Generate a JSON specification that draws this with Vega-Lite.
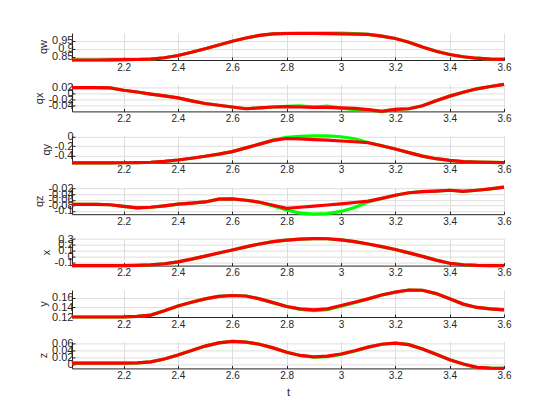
{
  "$schema": "https://vega.github.io/schema/vega-lite/v6.json",
  "padding": {"left": 33, "top": 26, "right": 5, "bottom": 5},
  "background": "white",
  "bounds": "flush",
  "spacing": 24.4,
  "datasets": {
    "est": [
      {"t": 2.01, "qw": 0.830, "qx": 0.020, "qy": -0.552, "qz": -0.077, "x": -0.160, "y": 0.1200, "z": 0.0045},
      {"t": 2.05, "qw": 0.830, "qx": 0.020, "qy": -0.552, "qz": -0.077, "x": -0.160, "y": 0.1200, "z": 0.0045},
      {"t": 2.10, "qw": 0.830, "qx": 0.020, "qy": -0.552, "qz": -0.077, "x": -0.160, "y": 0.1200, "z": 0.0045},
      {"t": 2.15, "qw": 0.831, "qx": 0.019, "qy": -0.552, "qz": -0.078, "x": -0.160, "y": 0.1200, "z": 0.0045},
      {"t": 2.20, "qw": 0.832, "qx": 0.011, "qy": -0.551, "qz": -0.084, "x": -0.159, "y": 0.1202, "z": 0.0048},
      {"t": 2.25, "qw": 0.833, "qx": 0.005, "qy": -0.548, "qz": -0.089, "x": -0.156, "y": 0.1212, "z": 0.0055},
      {"t": 2.30, "qw": 0.836, "qx": -0.002, "qy": -0.540, "qz": -0.087, "x": -0.148, "y": 0.1240, "z": 0.0080},
      {"t": 2.35, "qw": 0.844, "qx": -0.008, "qy": -0.522, "qz": -0.082, "x": -0.128, "y": 0.1330, "z": 0.0160},
      {"t": 2.40, "qw": 0.858, "qx": -0.015, "qy": -0.492, "qz": -0.076, "x": -0.095, "y": 0.1430, "z": 0.0270},
      {"t": 2.45, "qw": 0.878, "qx": -0.025, "qy": -0.455, "qz": -0.072, "x": -0.048, "y": 0.1510, "z": 0.0400},
      {"t": 2.50, "qw": 0.900, "qx": -0.034, "qy": -0.412, "qz": -0.068, "x": 0.005, "y": 0.1580, "z": 0.0520},
      {"t": 2.55, "qw": 0.923, "qx": -0.040, "qy": -0.368, "qz": -0.058, "x": 0.058, "y": 0.1630, "z": 0.0610},
      {"t": 2.60, "qw": 0.946, "qx": -0.046, "qy": -0.315, "qz": -0.057, "x": 0.110, "y": 0.1650, "z": 0.0650},
      {"t": 2.65, "qw": 0.966, "qx": -0.052, "qy": -0.235, "qz": -0.062, "x": 0.165, "y": 0.1640, "z": 0.0630},
      {"t": 2.70, "qw": 0.982, "qx": -0.049, "qy": -0.155, "qz": -0.069, "x": 0.215, "y": 0.1580, "z": 0.0570},
      {"t": 2.75, "qw": 0.992, "qx": -0.046, "qy": -0.075, "qz": -0.080, "x": 0.255, "y": 0.1500, "z": 0.0470},
      {"t": 2.80, "qw": 0.994, "qx": -0.045, "qy": -0.035, "qz": -0.091, "x": 0.280, "y": 0.1420, "z": 0.0350},
      {"t": 2.85, "qw": 0.994, "qx": -0.046, "qy": -0.045, "qz": -0.087, "x": 0.298, "y": 0.1370, "z": 0.0260},
      {"t": 2.90, "qw": 0.994, "qx": -0.047, "qy": -0.058, "qz": -0.083, "x": 0.308, "y": 0.1350, "z": 0.0220},
      {"t": 2.95, "qw": 0.993, "qx": -0.047, "qy": -0.072, "qz": -0.079, "x": 0.305, "y": 0.1370, "z": 0.0240},
      {"t": 3.00, "qw": 0.992, "qx": -0.049, "qy": -0.088, "qz": -0.075, "x": 0.285, "y": 0.1440, "z": 0.0300},
      {"t": 3.05, "qw": 0.990, "qx": -0.051, "qy": -0.105, "qz": -0.070, "x": 0.255, "y": 0.1510, "z": 0.0390},
      {"t": 3.10, "qw": 0.988, "qx": -0.055, "qy": -0.125, "qz": -0.065, "x": 0.215, "y": 0.1580, "z": 0.0490},
      {"t": 3.15, "qw": 0.978, "qx": -0.061, "qy": -0.190, "qz": -0.055, "x": 0.170, "y": 0.1660, "z": 0.0570},
      {"t": 3.20, "qw": 0.963, "qx": -0.054, "qy": -0.260, "qz": -0.044, "x": 0.120, "y": 0.1720, "z": 0.0600},
      {"t": 3.25, "qw": 0.940, "qx": -0.052, "qy": -0.335, "qz": -0.035, "x": 0.060, "y": 0.1765, "z": 0.0560},
      {"t": 3.30, "qw": 0.910, "qx": -0.042, "qy": -0.410, "qz": -0.031, "x": 0.000, "y": 0.1760, "z": 0.0440},
      {"t": 3.35, "qw": 0.884, "qx": -0.025, "qy": -0.465, "qz": -0.029, "x": -0.065, "y": 0.1690, "z": 0.0290},
      {"t": 3.40, "qw": 0.864, "qx": -0.009, "qy": -0.500, "qz": -0.026, "x": -0.120, "y": 0.1580, "z": 0.0140},
      {"t": 3.45, "qw": 0.850, "qx": 0.004, "qy": -0.525, "qz": -0.030, "x": -0.145, "y": 0.1470, "z": 0.0020},
      {"t": 3.50, "qw": 0.841, "qx": 0.016, "qy": -0.537, "qz": -0.026, "x": -0.155, "y": 0.1400, "z": -0.0070},
      {"t": 3.55, "qw": 0.836, "qx": 0.024, "qy": -0.545, "qz": -0.021, "x": -0.159, "y": 0.1370, "z": -0.0095},
      {"t": 3.60, "qw": 0.834, "qx": 0.031, "qy": -0.550, "qz": -0.015, "x": -0.160, "y": 0.1350, "z": -0.0100}
    ],
    "ref": [
      {"t": 2.01, "qw": 0.830, "qx": 0.020, "qy": -0.552, "qz": -0.077, "x": -0.160, "y": 0.1200, "z": 0.0045},
      {"t": 2.05, "qw": 0.830, "qx": 0.020, "qy": -0.552, "qz": -0.077, "x": -0.160, "y": 0.1200, "z": 0.0045},
      {"t": 2.10, "qw": 0.830, "qx": 0.020, "qy": -0.552, "qz": -0.077, "x": -0.160, "y": 0.1200, "z": 0.0045},
      {"t": 2.15, "qw": 0.831, "qx": 0.019, "qy": -0.552, "qz": -0.078, "x": -0.160, "y": 0.1200, "z": 0.0045},
      {"t": 2.20, "qw": 0.832, "qx": 0.011, "qy": -0.551, "qz": -0.084, "x": -0.159, "y": 0.1202, "z": 0.0048},
      {"t": 2.25, "qw": 0.833, "qx": 0.005, "qy": -0.548, "qz": -0.089, "x": -0.156, "y": 0.1212, "z": 0.0055},
      {"t": 2.30, "qw": 0.836, "qx": -0.002, "qy": -0.540, "qz": -0.087, "x": -0.148, "y": 0.1240, "z": 0.0080},
      {"t": 2.35, "qw": 0.844, "qx": -0.008, "qy": -0.522, "qz": -0.082, "x": -0.128, "y": 0.1330, "z": 0.0160},
      {"t": 2.40, "qw": 0.858, "qx": -0.015, "qy": -0.492, "qz": -0.076, "x": -0.095, "y": 0.1430, "z": 0.0270},
      {"t": 2.45, "qw": 0.878, "qx": -0.025, "qy": -0.455, "qz": -0.072, "x": -0.048, "y": 0.1510, "z": 0.0400},
      {"t": 2.50, "qw": 0.900, "qx": -0.034, "qy": -0.412, "qz": -0.068, "x": 0.005, "y": 0.1580, "z": 0.0520},
      {"t": 2.55, "qw": 0.923, "qx": -0.040, "qy": -0.368, "qz": -0.058, "x": 0.058, "y": 0.1630, "z": 0.0610},
      {"t": 2.60, "qw": 0.946, "qx": -0.046, "qy": -0.315, "qz": -0.057, "x": 0.110, "y": 0.1650, "z": 0.0650},
      {"t": 2.65, "qw": 0.966, "qx": -0.052, "qy": -0.235, "qz": -0.062, "x": 0.165, "y": 0.1640, "z": 0.0630},
      {"t": 2.70, "qw": 0.982, "qx": -0.049, "qy": -0.155, "qz": -0.069, "x": 0.215, "y": 0.1580, "z": 0.0570},
      {"t": 2.75, "qw": 0.992, "qx": -0.046, "qy": -0.070, "qz": -0.082, "x": 0.255, "y": 0.1500, "z": 0.0470},
      {"t": 2.80, "qw": 0.995, "qx": -0.044, "qy": -0.010, "qz": -0.097, "x": 0.280, "y": 0.1420, "z": 0.0350},
      {"t": 2.85, "qw": 0.996, "qx": -0.042, "qy": 0.012, "qz": -0.108, "x": 0.298, "y": 0.1360, "z": 0.0258},
      {"t": 2.90, "qw": 0.997, "qx": -0.046, "qy": 0.022, "qz": -0.112, "x": 0.308, "y": 0.1335, "z": 0.0210},
      {"t": 2.95, "qw": 0.997, "qx": -0.043, "qy": 0.020, "qz": -0.110, "x": 0.305, "y": 0.1355, "z": 0.0228},
      {"t": 3.00, "qw": 0.996, "qx": -0.050, "qy": 0.002, "qz": -0.102, "x": 0.285, "y": 0.1425, "z": 0.0288},
      {"t": 3.05, "qw": 0.993, "qx": -0.055, "qy": -0.040, "qz": -0.088, "x": 0.255, "y": 0.1500, "z": 0.0380},
      {"t": 3.10, "qw": 0.988, "qx": -0.056, "qy": -0.120, "qz": -0.068, "x": 0.215, "y": 0.1580, "z": 0.0490},
      {"t": 3.15, "qw": 0.978, "qx": -0.061, "qy": -0.190, "qz": -0.055, "x": 0.170, "y": 0.1660, "z": 0.0570},
      {"t": 3.20, "qw": 0.963, "qx": -0.054, "qy": -0.260, "qz": -0.044, "x": 0.120, "y": 0.1720, "z": 0.0600},
      {"t": 3.25, "qw": 0.940, "qx": -0.052, "qy": -0.335, "qz": -0.035, "x": 0.060, "y": 0.1765, "z": 0.0560},
      {"t": 3.30, "qw": 0.910, "qx": -0.042, "qy": -0.410, "qz": -0.031, "x": 0.000, "y": 0.1760, "z": 0.0440},
      {"t": 3.35, "qw": 0.884, "qx": -0.025, "qy": -0.465, "qz": -0.029, "x": -0.065, "y": 0.1690, "z": 0.0290},
      {"t": 3.40, "qw": 0.864, "qx": -0.009, "qy": -0.500, "qz": -0.026, "x": -0.120, "y": 0.1580, "z": 0.0140},
      {"t": 3.45, "qw": 0.850, "qx": 0.004, "qy": -0.525, "qz": -0.030, "x": -0.145, "y": 0.1470, "z": 0.0020},
      {"t": 3.50, "qw": 0.841, "qx": 0.016, "qy": -0.537, "qz": -0.026, "x": -0.155, "y": 0.1400, "z": -0.0070},
      {"t": 3.55, "qw": 0.836, "qx": 0.024, "qy": -0.545, "qz": -0.021, "x": -0.159, "y": 0.1370, "z": -0.0095},
      {"t": 3.60, "qw": 0.834, "qx": 0.031, "qy": -0.550, "qz": -0.015, "x": -0.160, "y": 0.1350, "z": -0.0100}
    ]
  },
  "vconcat": [
    {
      "width": 432, "height": 27,
      "encoding": {
        "x": {"field": "t", "type": "quantitative", "scale": {"domain": [2.01, 3.6], "nice": false, "zero": false}, "axis": {"values": [2.2, 2.4, 2.6, 2.8, 3, 3.2, 3.4, 3.6], "title": null}},
        "y": {"field": "qw", "type": "quantitative", "scale": {"zero": false, "nice": false}, "axis": {"values": [0.85, 0.9, 0.95], "title": "qw"}}
      },
      "layer": [
        {"data": {"name": "ref"}, "mark": {"type": "line", "color": "#00ff00", "strokeWidth": 3.2}},
        {"data": {"name": "est"}, "mark": {"type": "line", "color": "#ff0000", "strokeWidth": 3.2}}
      ]
    },
    {
      "width": 432, "height": 27,
      "encoding": {
        "x": {"field": "t", "type": "quantitative", "scale": {"domain": [2.01, 3.6], "nice": false, "zero": false}, "axis": {"values": [2.2, 2.4, 2.6, 2.8, 3, 3.2, 3.4, 3.6], "title": null}},
        "y": {"field": "qx", "type": "quantitative", "scale": {"zero": false, "nice": false}, "axis": {"values": [-0.04, -0.02, 0, 0.02], "title": "qx"}}
      },
      "layer": [
        {"data": {"name": "ref"}, "mark": {"type": "line", "color": "#00ff00", "strokeWidth": 3.2}},
        {"data": {"name": "est"}, "mark": {"type": "line", "color": "#ff0000", "strokeWidth": 3.2}}
      ]
    },
    {
      "width": 432, "height": 27,
      "encoding": {
        "x": {"field": "t", "type": "quantitative", "scale": {"domain": [2.01, 3.6], "nice": false, "zero": false}, "axis": {"values": [2.2, 2.4, 2.6, 2.8, 3, 3.2, 3.4, 3.6], "title": null}},
        "y": {"field": "qy", "type": "quantitative", "scale": {"zero": false, "nice": false}, "axis": {"values": [-0.4, -0.2, 0], "title": "qy"}}
      },
      "layer": [
        {"data": {"name": "ref"}, "mark": {"type": "line", "color": "#00ff00", "strokeWidth": 3.2}},
        {"data": {"name": "est"}, "mark": {"type": "line", "color": "#ff0000", "strokeWidth": 3.2}}
      ]
    },
    {
      "width": 432, "height": 27,
      "encoding": {
        "x": {"field": "t", "type": "quantitative", "scale": {"domain": [2.01, 3.6], "nice": false, "zero": false}, "axis": {"values": [2.2, 2.4, 2.6, 2.8, 3, 3.2, 3.4, 3.6], "title": null}},
        "y": {"field": "qz", "type": "quantitative", "scale": {"zero": false, "nice": false}, "axis": {"values": [-0.1, -0.08, -0.06, -0.04, -0.02], "title": "qz"}}
      },
      "layer": [
        {"data": {"name": "ref"}, "mark": {"type": "line", "color": "#00ff00", "strokeWidth": 3.2}},
        {"data": {"name": "est"}, "mark": {"type": "line", "color": "#ff0000", "strokeWidth": 3.2}}
      ]
    },
    {
      "width": 432, "height": 27,
      "encoding": {
        "x": {"field": "t", "type": "quantitative", "scale": {"domain": [2.01, 3.6], "nice": false, "zero": false}, "axis": {"values": [2.2, 2.4, 2.6, 2.8, 3, 3.2, 3.4, 3.6], "title": null}},
        "y": {"field": "x", "type": "quantitative", "scale": {"zero": false, "nice": false}, "axis": {"values": [-0.1, 0, 0.1, 0.2, 0.3], "title": "x"}}
      },
      "layer": [
        {"data": {"name": "ref"}, "mark": {"type": "line", "color": "#00ff00", "strokeWidth": 3.2}},
        {"data": {"name": "est"}, "mark": {"type": "line", "color": "#ff0000", "strokeWidth": 3.2}}
      ]
    },
    {
      "width": 432, "height": 27,
      "encoding": {
        "x": {"field": "t", "type": "quantitative", "scale": {"domain": [2.01, 3.6], "nice": false, "zero": false}, "axis": {"values": [2.2, 2.4, 2.6, 2.8, 3, 3.2, 3.4, 3.6], "title": null}},
        "y": {"field": "y", "type": "quantitative", "scale": {"zero": false, "nice": false}, "axis": {"values": [0.12, 0.14, 0.16], "title": "y"}}
      },
      "layer": [
        {"data": {"name": "ref"}, "mark": {"type": "line", "color": "#00ff00", "strokeWidth": 3.2}},
        {"data": {"name": "est"}, "mark": {"type": "line", "color": "#ff0000", "strokeWidth": 3.2}}
      ]
    },
    {
      "width": 432, "height": 27,
      "encoding": {
        "x": {"field": "t", "type": "quantitative", "scale": {"domain": [2.01, 3.6], "nice": false, "zero": false}, "axis": {"values": [2.2, 2.4, 2.6, 2.8, 3, 3.2, 3.4, 3.6], "title": "t"}},
        "y": {"field": "z", "type": "quantitative", "scale": {"zero": false, "nice": false}, "axis": {"values": [0, 0.02, 0.04, 0.06], "title": "z"}}
      },
      "layer": [
        {"data": {"name": "ref"}, "mark": {"type": "line", "color": "#00ff00", "strokeWidth": 3.2}},
        {"data": {"name": "est"}, "mark": {"type": "line", "color": "#ff0000", "strokeWidth": 3.2}}
      ]
    }
  ],
  "config": {
    "view": {"stroke": null},
    "font": "Liberation Sans",
    "axis": {
      "labelFont": "Liberation Sans",
      "labelFontSize": 10,
      "labelColor": "#262626",
      "labelOverlap": false,
      "labelBound": false,
      "labelFlush": false,
      "labelExpr": "replace(format(datum.value, '~g'), '−', '-')",
      "titleFont": "Liberation Sans",
      "titleFontSize": 11,
      "titleFontWeight": "normal",
      "titleColor": "#262626",
      "domainColor": "#262626",
      "domainWidth": 1,
      "tickColor": "#262626",
      "tickSize": -3,
      "gridColor": "#dedede",
      "gridWidth": 1
    },
    "axisX": {"labelPadding": 5, "titlePadding": 6},
    "axisY": {"labelPadding": 2, "titlePadding": 3, "labelFontSize": 11}
  }
}
